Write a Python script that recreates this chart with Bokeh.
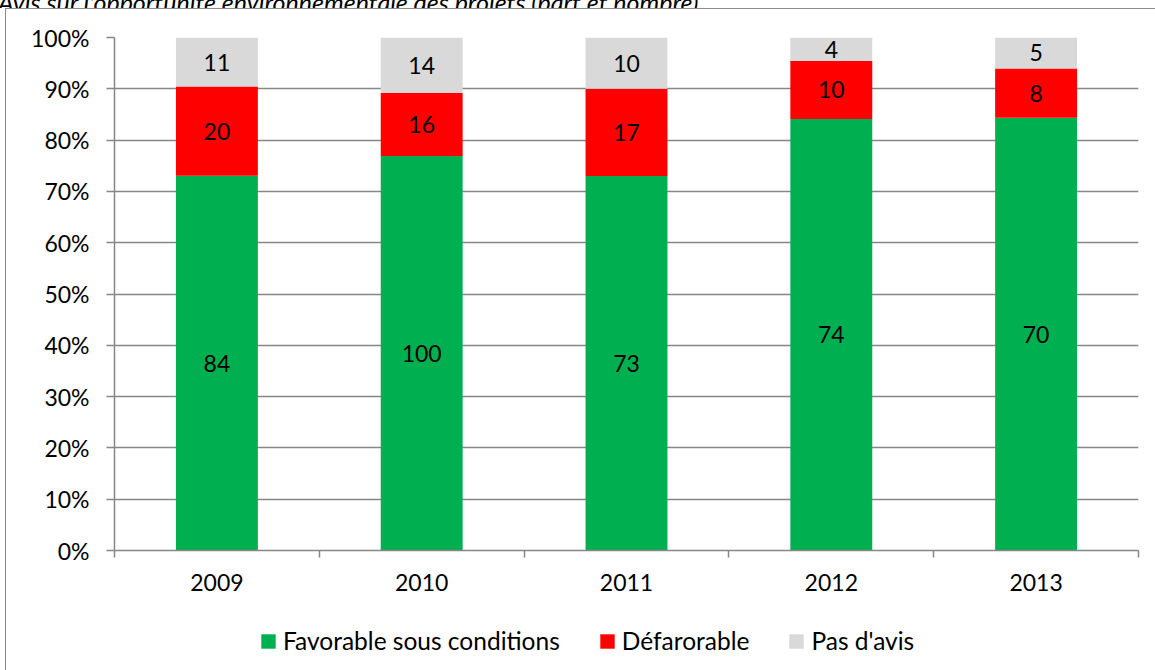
import numpy as np
from bokeh.plotting import figure
from bokeh.layouts import column
from bokeh.models import (ColumnDataSource, FixedTicker, NumeralTickFormatter,
                          Legend, LegendItem, Range1d, Div)
from bokeh.core.properties import value
from bokeh.embed import file_html
from bokeh.resources import INLINE

title_text = "Avis sur l'opportunité environnementale des projets (part et nombre)."
years = ["2009", "2010", "2011", "2012", "2013"]
favorable = [84, 100, 73, 74, 70]
defavorable = [20, 16, 17, 10, 8]
pas_avis = [11, 14, 10, 4, 5]
series_names = ["Favorable sous conditions", "Défarorable", "Pas d'avis"]
colors = ["#00B050", "#FF0000", "#D9D9D9"]
y_ticks = [0, 0.1, 0.2, 0.3, 0.4, 0.5, 0.6, 0.7, 0.8, 0.9, 1.0]

FONT = "Lato"
FS = "23px"
GRAY = "#868686"
BORDER = "1.5px solid #8c8c8c"

counts = np.array([favorable, defavorable, pas_avis], dtype=float)
totals = counts.sum(axis=0)
shares = counts / totals
tops = np.cumsum(shares, axis=0)
bottoms = tops - shares
x = np.arange(len(years)) + 0.5

# caption, only its lower part is visible at the top edge
title_div = Div(
    text=('<div style="margin-top:-27px;margin-left:-2px;white-space:nowrap;'
          'font-family:Lato;font-style:italic;font-size:25px;line-height:25px;color:black">'
          + title_text + '</div>'),
    width=1155, height=8, margin=(0, 0, 0, 0), styles={"overflow": "hidden"})

p = figure(frame_width=1023, frame_height=512, min_border_left=108, min_border_top=28,
           min_border_right=18, min_border_bottom=60,
           x_range=Range1d(0, len(years)), y_range=Range1d(0, 1),
           output_backend="svg", toolbar_location=None)
p.margin = (0, 0, 0, 5)
p.styles = {"border-top": BORDER, "border-left": BORDER}
p.outline_line_color = None
p.background_fill_color = "white"
p.border_fill_color = "white"

for i, name in enumerate(series_names):
    src = ColumnDataSource(dict(x=x, top=tops[i], bottom=bottoms[i],
                                mid=(tops[i] + bottoms[i]) / 2,
                                lab=[str(int(v)) for v in counts[i]]))
    p.vbar(x="x", top="top", bottom="bottom", width=0.4, source=src,
           fill_color=colors[i], line_color=None)
    p.text(x="x", y="mid", text="lab", source=src, text_align="center",
           text_baseline="middle", text_font=value(FONT), text_font_size=FS,
           text_color="black")

# axes
p.xaxis.ticker = FixedTicker(ticks=list(x), minor_ticks=list(range(len(years) + 1)))
p.xaxis.major_label_overrides = {float(xi): y for xi, y in zip(x, years)}
p.xaxis.major_tick_out = 0
p.xaxis.major_tick_in = 0
p.xaxis.minor_tick_out = 7
p.xaxis.minor_tick_in = 0
p.xaxis.minor_tick_line_color = GRAY
p.xaxis.minor_tick_line_width = 1.5
p.xaxis.axis_line_color = GRAY
p.xaxis.axis_line_width = 1.5
p.xaxis.major_label_standoff = 16
p.xaxis.major_label_text_font = FONT
p.xaxis.major_label_text_font_size = FS
p.xaxis.major_label_text_color = "black"

p.yaxis.ticker = FixedTicker(ticks=y_ticks)
p.yaxis.formatter = NumeralTickFormatter(format="0%")
p.yaxis.major_tick_out = 8
p.yaxis.major_tick_in = 0
p.yaxis.minor_tick_line_color = None
p.yaxis.major_tick_line_color = GRAY
p.yaxis.major_tick_line_width = 1.5
p.yaxis.axis_line_color = GRAY
p.yaxis.axis_line_width = 1.5
p.yaxis.major_label_standoff = 17
p.yaxis.major_label_text_font = FONT
p.yaxis.major_label_text_font_size = FS
p.yaxis.major_label_text_color = "black"

p.xgrid.grid_line_color = None
p.ygrid.ticker = FixedTicker(ticks=y_ticks)
p.ygrid.grid_line_color = GRAY
p.ygrid.grid_line_width = 1.5

# legend strip below the chart
pl = figure(frame_width=1149, frame_height=61, min_border=0,
            x_range=Range1d(0, 1), y_range=Range1d(0, 1),
            output_backend="svg", toolbar_location=None)
pl.margin = (0, 0, 0, 5)
pl.styles = {"border-left": BORDER}
pl.axis.visible = False
pl.grid.visible = False
pl.outline_line_color = None
pl.background_fill_color = "white"
pl.border_fill_color = "white"
items = []
for name, c in zip(series_names, colors):
    # legend proxy renderer (NaN data, nothing drawn in the strip itself)
    r = pl.vbar(x=[np.nan], top=[np.nan], width=0.1, fill_color=c, line_color=None)
    items.append(LegendItem(label=name, renderers=[r]))
legend = Legend(items=items, orientation="horizontal", location=(253, 15),
                glyph_width=18, glyph_height=18, label_standoff=6, spacing=38,
                label_text_font=FONT, label_text_font_size="24.5px", label_text_color="black",
                border_line_color=None, background_fill_alpha=0, padding=0, margin=0)
pl.add_layout(legend, "center")

layout = column(title_div, p, pl, spacing=0)
open("out.html", "w").write(file_html(layout, INLINE))
